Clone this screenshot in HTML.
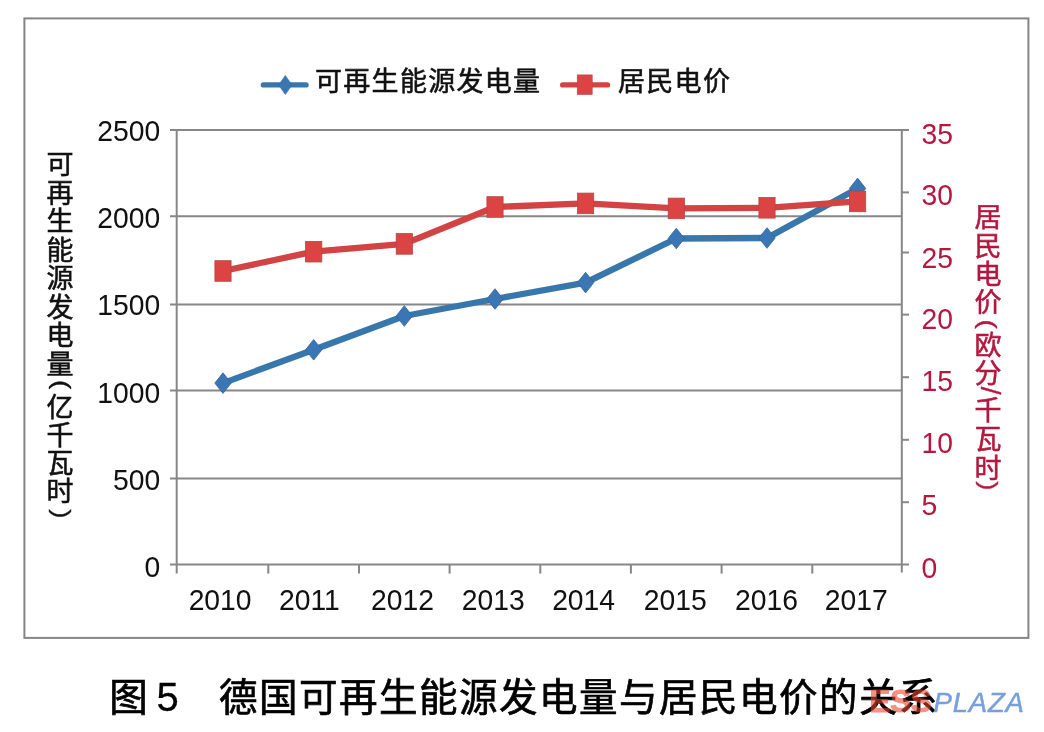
<!DOCTYPE html>
<html lang="zh-CN"><head><meta charset="utf-8"><title>图5 德国可再生能源发电量与居民电价的关系</title>
<style>
html,body{margin:0;padding:0;background:#fff;}
body{width:1044px;height:732px;overflow:hidden;}
svg{display:block;font-family:"Liberation Sans", "Noto Sans CJK SC", sans-serif;}
</style></head><body>
<svg width="1044" height="732" viewBox="0 0 1044 732">
<rect x="24.4" y="18.4" width="1004" height="619.5" fill="none" stroke="#858585" stroke-width="2"/>
<line x1="170" y1="130.1" x2="909" y2="130.1" stroke="#878787" stroke-width="2"/>
<line x1="170" y1="216.2" x2="901.8" y2="216.2" stroke="#878787" stroke-width="2"/>
<line x1="170" y1="304.4" x2="901.8" y2="304.4" stroke="#878787" stroke-width="2"/>
<line x1="170" y1="390.4" x2="901.8" y2="390.4" stroke="#878787" stroke-width="2"/>
<line x1="170" y1="478.4" x2="901.8" y2="478.4" stroke="#878787" stroke-width="2"/>
<line x1="170" y1="564.6" x2="909" y2="564.6" stroke="#878787" stroke-width="2"/>
<line x1="176.7" y1="129.1" x2="176.7" y2="573.6" stroke="#878787" stroke-width="2"/>
<line x1="901.8" y1="129.3" x2="901.8" y2="572.6" stroke="#878787" stroke-width="2"/>
<line x1="268.3" y1="564" x2="268.3" y2="573.6" stroke="#878787" stroke-width="2"/>
<line x1="359.0" y1="564" x2="359.0" y2="573.6" stroke="#878787" stroke-width="2"/>
<line x1="449.6" y1="564" x2="449.6" y2="573.6" stroke="#878787" stroke-width="2"/>
<line x1="540.3" y1="564" x2="540.3" y2="573.6" stroke="#878787" stroke-width="2"/>
<line x1="630.9" y1="564" x2="630.9" y2="573.6" stroke="#878787" stroke-width="2"/>
<line x1="721.6" y1="564" x2="721.6" y2="573.6" stroke="#878787" stroke-width="2"/>
<line x1="812.3" y1="564" x2="812.3" y2="573.6" stroke="#878787" stroke-width="2"/>
<line x1="901" y1="192.4" x2="909" y2="192.4" stroke="#878787" stroke-width="2"/>
<line x1="901" y1="252.5" x2="909" y2="252.5" stroke="#878787" stroke-width="2"/>
<line x1="901" y1="314.6" x2="909" y2="314.6" stroke="#878787" stroke-width="2"/>
<line x1="901" y1="377.2" x2="909" y2="377.2" stroke="#878787" stroke-width="2"/>
<line x1="901" y1="439.8" x2="909" y2="439.8" stroke="#878787" stroke-width="2"/>
<line x1="901" y1="502.2" x2="909" y2="502.2" stroke="#878787" stroke-width="2"/>
<polyline points="223.0,383.1 313.7,349.8 404.3,316 495.0,299 585.6,282.6 676.3,238.5 767.0,238.0 857.6,188.4" fill="none" stroke="#3877ac" stroke-width="6.3" stroke-linejoin="round"/>
<path d="M223.0 372.8L231.2 383.1L223.0 393.4L214.8 383.1Z" fill="#3b76b4" stroke="#33639f" stroke-width="0.8" stroke-linejoin="round"/>
<path d="M313.7 339.5L321.9 349.8L313.7 360.1L305.5 349.8Z" fill="#3b76b4" stroke="#33639f" stroke-width="0.8" stroke-linejoin="round"/>
<path d="M404.3 305.7L412.5 316.0L404.3 326.3L396.1 316.0Z" fill="#3b76b4" stroke="#33639f" stroke-width="0.8" stroke-linejoin="round"/>
<path d="M495.0 288.7L503.2 299.0L495.0 309.3L486.8 299.0Z" fill="#3b76b4" stroke="#33639f" stroke-width="0.8" stroke-linejoin="round"/>
<path d="M585.6 272.3L593.8 282.6L585.6 292.9L577.4 282.6Z" fill="#3b76b4" stroke="#33639f" stroke-width="0.8" stroke-linejoin="round"/>
<path d="M676.3 228.2L684.5 238.5L676.3 248.8L668.1 238.5Z" fill="#3b76b4" stroke="#33639f" stroke-width="0.8" stroke-linejoin="round"/>
<path d="M767.0 227.7L775.2 238.0L767.0 248.3L758.8 238.0Z" fill="#3b76b4" stroke="#33639f" stroke-width="0.8" stroke-linejoin="round"/>
<path d="M857.6 178.1L865.8 188.4L857.6 198.7L849.4 188.4Z" fill="#3b76b4" stroke="#33639f" stroke-width="0.8" stroke-linejoin="round"/>
<polyline points="223.0,271 313.7,251.7 404.3,243.9 495.0,207 585.6,203.4 676.3,208.4 767.0,207.8 857.6,201.4" fill="none" stroke="#d24343" stroke-width="6.3" stroke-linejoin="round"/>
<rect x="214.9" y="260.7" width="16.2" height="20.6" fill="#dc4444" stroke="#b94444" stroke-width="0.8"/>
<rect x="305.6" y="241.4" width="16.2" height="20.6" fill="#dc4444" stroke="#b94444" stroke-width="0.8"/>
<rect x="396.2" y="233.6" width="16.2" height="20.6" fill="#dc4444" stroke="#b94444" stroke-width="0.8"/>
<rect x="486.9" y="196.7" width="16.2" height="20.6" fill="#dc4444" stroke="#b94444" stroke-width="0.8"/>
<rect x="577.5" y="193.1" width="16.2" height="20.6" fill="#dc4444" stroke="#b94444" stroke-width="0.8"/>
<rect x="668.2" y="198.1" width="16.2" height="20.6" fill="#dc4444" stroke="#b94444" stroke-width="0.8"/>
<rect x="758.9" y="197.5" width="16.2" height="20.6" fill="#dc4444" stroke="#b94444" stroke-width="0.8"/>
<rect x="849.5" y="191.1" width="16.2" height="20.6" fill="#dc4444" stroke="#b94444" stroke-width="0.8"/>
<line x1="263.4" y1="84.9" x2="306" y2="84.9" stroke="#3877ac" stroke-width="5.4" stroke-linecap="round"/>
<path d="M285.3 75.4L292 85L285.3 94.6L278.6 85Z" fill="#3b76b4" stroke="#33639f" stroke-width="0.5" stroke-linejoin="round"/>
<line x1="562.7" y1="84.9" x2="607.5" y2="84.9" stroke="#d24343" stroke-width="5.4" stroke-linecap="round"/>
<rect x="577.2" y="74.9" width="15" height="19.6" fill="#dc4444" stroke="#b94444" stroke-width="0.6"/>
<text x="315.0" y="91.0" font-size="27" text-anchor="start" fill="#111" stroke="#111" stroke-width="0.55" letter-spacing="1.3">可再生能源发电量</text>
<text x="618.0" y="91.0" font-size="27" text-anchor="start" fill="#111" stroke="#111" stroke-width="0.55" letter-spacing="1.3">居民电价</text>
<text transform="translate(160.2 140.5) scale(0.95 1)" font-size="29.8" text-anchor="end" fill="#111" font-family='"Liberation Sans", Arial, sans-serif'>2500</text>
<text transform="translate(160.2 227.8) scale(0.95 1)" font-size="29.8" text-anchor="end" fill="#111" font-family='"Liberation Sans", Arial, sans-serif'>2000</text>
<text transform="translate(160.2 315.2) scale(0.95 1)" font-size="29.8" text-anchor="end" fill="#111" font-family='"Liberation Sans", Arial, sans-serif'>1500</text>
<text transform="translate(160.2 402.5) scale(0.95 1)" font-size="29.8" text-anchor="end" fill="#111" font-family='"Liberation Sans", Arial, sans-serif'>1000</text>
<text transform="translate(160.2 489.8) scale(0.95 1)" font-size="29.8" text-anchor="end" fill="#111" font-family='"Liberation Sans", Arial, sans-serif'>500</text>
<text transform="translate(160.2 577.1) scale(0.95 1)" font-size="29.8" text-anchor="end" fill="#111" font-family='"Liberation Sans", Arial, sans-serif'>0</text>
<text transform="translate(921.5 144.2) scale(0.95 1)" font-size="29.8" text-anchor="start" fill="#b5173e" font-family='"Liberation Sans", Arial, sans-serif'>35</text>
<text transform="translate(921.5 205.0) scale(0.95 1)" font-size="29.8" text-anchor="start" fill="#b5173e" font-family='"Liberation Sans", Arial, sans-serif'>30</text>
<text transform="translate(921.5 267.9) scale(0.95 1)" font-size="29.8" text-anchor="start" fill="#b5173e" font-family='"Liberation Sans", Arial, sans-serif'>25</text>
<text transform="translate(921.5 329.1) scale(0.95 1)" font-size="29.8" text-anchor="start" fill="#b5173e" font-family='"Liberation Sans", Arial, sans-serif'>20</text>
<text transform="translate(921.5 390.5) scale(0.95 1)" font-size="29.8" text-anchor="start" fill="#b5173e" font-family='"Liberation Sans", Arial, sans-serif'>15</text>
<text transform="translate(921.5 453.4) scale(0.95 1)" font-size="29.8" text-anchor="start" fill="#b5173e" font-family='"Liberation Sans", Arial, sans-serif'>10</text>
<text transform="translate(921.5 515.3) scale(0.95 1)" font-size="29.8" text-anchor="start" fill="#b5173e" font-family='"Liberation Sans", Arial, sans-serif'>5</text>
<text transform="translate(921.5 578.0) scale(0.95 1)" font-size="29.8" text-anchor="start" fill="#b5173e" font-family='"Liberation Sans", Arial, sans-serif'>0</text>
<text transform="translate(220.1 609.7) scale(0.95 1)" font-size="29.8" text-anchor="middle" fill="#111" font-family='"Liberation Sans", Arial, sans-serif'>2010</text>
<text transform="translate(309.4 609.7) scale(0.95 1)" font-size="29.8" text-anchor="middle" fill="#111" font-family='"Liberation Sans", Arial, sans-serif'>2011</text>
<text transform="translate(402.5 609.7) scale(0.95 1)" font-size="29.8" text-anchor="middle" fill="#111" font-family='"Liberation Sans", Arial, sans-serif'>2012</text>
<text transform="translate(493.2 609.7) scale(0.95 1)" font-size="29.8" text-anchor="middle" fill="#111" font-family='"Liberation Sans", Arial, sans-serif'>2013</text>
<text transform="translate(583.6 609.7) scale(0.95 1)" font-size="29.8" text-anchor="middle" fill="#111" font-family='"Liberation Sans", Arial, sans-serif'>2014</text>
<text transform="translate(675.2 609.7) scale(0.95 1)" font-size="29.8" text-anchor="middle" fill="#111" font-family='"Liberation Sans", Arial, sans-serif'>2015</text>
<text transform="translate(766.5 609.7) scale(0.95 1)" font-size="29.8" text-anchor="middle" fill="#111" font-family='"Liberation Sans", Arial, sans-serif'>2016</text>
<text transform="translate(856.3 609.7) scale(0.95 1)" font-size="29.8" text-anchor="middle" fill="#111" font-family='"Liberation Sans", Arial, sans-serif'>2017</text>
<text x="60.0" y="174.0" font-size="27" text-anchor="middle" fill="#111" stroke="#111" stroke-width="0.55">可</text>
<text x="60.0" y="202.5" font-size="27" text-anchor="middle" fill="#111" stroke="#111" stroke-width="0.55">再</text>
<text x="60.0" y="231.0" font-size="27" text-anchor="middle" fill="#111" stroke="#111" stroke-width="0.55">生</text>
<text x="60.0" y="259.5" font-size="27" text-anchor="middle" fill="#111" stroke="#111" stroke-width="0.55">能</text>
<text x="60.0" y="288.0" font-size="27" text-anchor="middle" fill="#111" stroke="#111" stroke-width="0.55">源</text>
<text x="60.0" y="316.5" font-size="27" text-anchor="middle" fill="#111" stroke="#111" stroke-width="0.55">发</text>
<text x="60.0" y="345.0" font-size="27" text-anchor="middle" fill="#111" stroke="#111" stroke-width="0.55">电</text>
<text x="60.0" y="373.5" font-size="27" text-anchor="middle" fill="#111" stroke="#111" stroke-width="0.55">量</text>
<text transform="translate(62.0 384.6) rotate(90) scale(1 0.88)" font-size="28" text-anchor="middle" dominant-baseline="central" fill="#111" stroke="#111" stroke-width="0.4" font-family='"Liberation Sans", Arial, sans-serif'>(</text>
<text x="60.0" y="416.5" font-size="27" text-anchor="middle" fill="#111" stroke="#111" stroke-width="0.55">亿</text>
<text x="60.0" y="444.8" font-size="27" text-anchor="middle" fill="#111" stroke="#111" stroke-width="0.55">千</text>
<text x="60.0" y="473.1" font-size="27" text-anchor="middle" fill="#111" stroke="#111" stroke-width="0.55">瓦</text>
<text x="60.0" y="501.4" font-size="27" text-anchor="middle" fill="#111" stroke="#111" stroke-width="0.55">时</text>
<text transform="translate(62.0 513.8) rotate(90) scale(1 0.88)" font-size="28" text-anchor="middle" dominant-baseline="central" fill="#111" stroke="#111" stroke-width="0.4" font-family='"Liberation Sans", Arial, sans-serif'>)</text>
<text x="988.0" y="227.4" font-size="27" text-anchor="middle" fill="#b5173e" stroke="#b5173e" stroke-width="0.55">居</text>
<text x="988.0" y="255.7" font-size="27" text-anchor="middle" fill="#b5173e" stroke="#b5173e" stroke-width="0.55">民</text>
<text x="988.0" y="284.0" font-size="27" text-anchor="middle" fill="#b5173e" stroke="#b5173e" stroke-width="0.55">电</text>
<text x="988.0" y="312.3" font-size="27" text-anchor="middle" fill="#b5173e" stroke="#b5173e" stroke-width="0.55">价</text>
<text transform="translate(988.5 324.2) rotate(90) scale(1 0.88)" font-size="28" text-anchor="middle" dominant-baseline="central" fill="#b5173e" stroke="#b5173e" stroke-width="0.4" font-family='"Liberation Sans", Arial, sans-serif'>(</text>
<text x="988.0" y="354.5" font-size="27" text-anchor="middle" fill="#b5173e" stroke="#b5173e" stroke-width="0.55">欧</text>
<text x="988.0" y="382.8" font-size="27" text-anchor="middle" fill="#b5173e" stroke="#b5173e" stroke-width="0.55">分</text>
<text transform="translate(990.0 390.7) rotate(90) scale(1 1.0)" font-size="28" text-anchor="middle" dominant-baseline="central" fill="#b5173e" stroke="#b5173e" stroke-width="0.4" font-family='"Liberation Sans", Arial, sans-serif'>/</text>
<text x="988.0" y="420.0" font-size="27" text-anchor="middle" fill="#b5173e" stroke="#b5173e" stroke-width="0.55">千</text>
<text x="988.0" y="448.8" font-size="27" text-anchor="middle" fill="#b5173e" stroke="#b5173e" stroke-width="0.55">瓦</text>
<text x="988.0" y="477.6" font-size="27" text-anchor="middle" fill="#b5173e" stroke="#b5173e" stroke-width="0.55">时</text>
<text transform="translate(989.5 485.9) rotate(90) scale(1 0.88)" font-size="28" text-anchor="middle" dominant-baseline="central" fill="#b5173e" stroke="#b5173e" stroke-width="0.4" font-family='"Liberation Sans", Arial, sans-serif'>)</text>
<text x="109.3" y="710.5" font-size="38.5" text-anchor="start" fill="#000" stroke="#000" stroke-width="0.7">图</text>
<text x="156.5" y="711" font-size="40" fill="#000" font-family='"Liberation Sans", Arial, sans-serif' stroke="#000" stroke-width="0.3">5</text>
<text x="219.0" y="710.5" font-size="38.5" text-anchor="start" fill="#000" stroke="#000" stroke-width="0.7" letter-spacing="1.5">德国可再生能源发电量与居民电价的关系</text>
<g opacity="0.58"><text x="869.5" y="711.5" font-size="31" font-weight="bold" fill="#e8442e" stroke="#e8442e" stroke-width="1.2" stroke-linejoin="round" font-family='"Liberation Sans", Arial, sans-serif'>ESS</text></g>
<text x="933.5" y="711.5" font-size="27.5" font-style="italic" fill="#78a0da" stroke="#78a0da" stroke-width="0.5" letter-spacing="0.8" font-family='"Liberation Sans", Arial, sans-serif'>PLAZA</text>
</svg>
</body></html>
